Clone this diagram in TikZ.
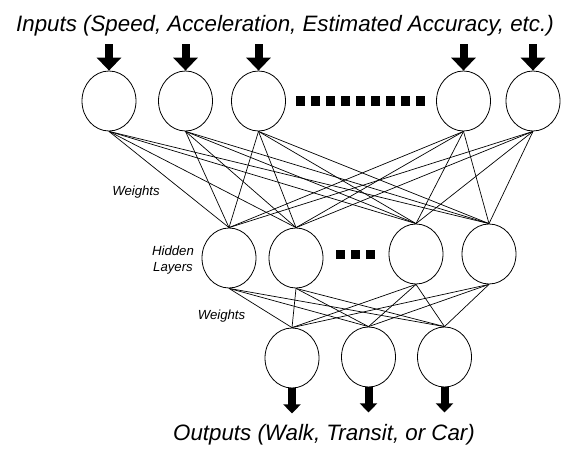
\documentclass[tikz,border=0pt]{standalone}
\usepackage{fontspec}
\setmainfont{Liberation Sans}
\usetikzlibrary{shapes.geometric,arrows.meta}
\begin{document}
\begin{tikzpicture}[x=1pt,y=-1pt,
  neuron/.style={draw,ellipse,minimum width=54pt,minimum height=60pt,inner sep=0pt,line width=0.8pt},
  link/.style={line width=0.7pt},
  bigarrow/.style={line width=8pt,-{Triangle[width=24pt,length=13pt]}},
  smallarrow/.style={line width=8pt,-{Triangle[width=17pt,length=9pt]}},
  bigtext/.style={font=\fontsize{22.3}{26}\selectfont\itshape,anchor=base,inner sep=0pt},
  smalltext/.style={font=\fontsize{13.2}{16}\selectfont\itshape,anchor=base,inner sep=0pt},
  dotsq/.style={fill=black,draw=none}]
\useasboundingbox (0,0) rectangle (561,450);
% title
\node[bigtext] (title) at (285,31) {Inputs (Speed, Acceleration, Estimated Accuracy, etc.)};
% input neurons
\node[neuron] (i1) at (109,101) {};
\node[neuron] (i2) at (185.5,101) {};
\node[neuron] (i3) at (258.5,101) {};
\node[neuron] (i4) at (463.5,101) {};
\node[neuron] (i5) at (533,101) {};
% hidden neurons
\node[neuron] (h1) at (229,258) {};
\node[neuron] (h2) at (296,258) {};
\node[neuron] (h3) at (416,254) {};
\node[neuron] (h4) at (489,254) {};
% output neurons
\node[neuron] (o1) at (292,358) {};
\node[neuron] (o2) at (368.5,357) {};
\node[neuron] (o3) at (444.5,357) {};
% input arrows
\foreach \k/\x in {1/109,2/185.5,3/258.5,4/463.5,5/533}{
  \coordinate (a\k) at (\x,44);
  \draw[bigarrow] (a\k) -- (i\k.north);
}
% output arrows
\foreach \k in {1,2,3}{
  \coordinate (b\k) at ([yshift=-25pt]o\k.south);
  \draw[smallarrow] (o\k.south) -- (b\k);
}
% connections
\foreach \i in {1,...,5}{
  \foreach \j in {1,...,4}{
    \draw[link] (i\i.south) -- (h\j.north);
  }
}
\foreach \i in {1,...,4}{
  \foreach \j in {1,2,3}{
    \draw[link] (h\i.south) -- (o\j.north);
  }
}
% dots
\foreach \k in {0,...,8}{
  \fill[dotsq] (296+\k*15,96) rectangle ++(9,10);
}
\foreach \k in {0,1,2}{
  \fill[dotsq] (336+\k*15,250) rectangle ++(9,9);
}
% labels
\node[smalltext] (w1) at (136,195) {Weights};
\node[smalltext] (w2) at (221.5,319) {Weights};
\node[smalltext] (hl1) at (173,255.5) {Hidden};
\node[smalltext] (hl2) at (173,271.5) {Layers};
\node[bigtext] (out) at (324,440) {Outputs (Walk, Transit, or Car)};
\end{tikzpicture}
\end{document}
